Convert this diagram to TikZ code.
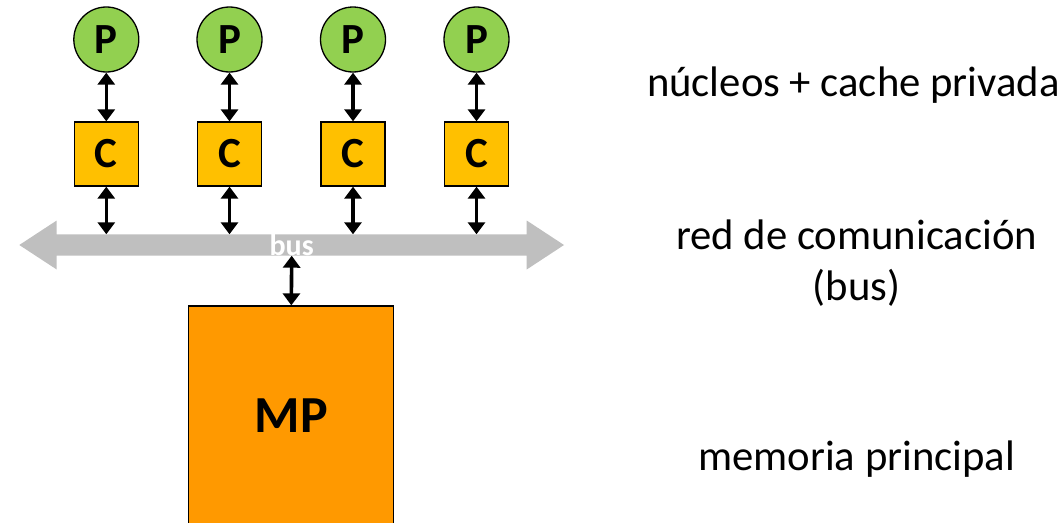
\documentclass[tikz,border=0pt]{standalone}
\usepackage{fontspec}
\setmainfont{Carlito}
\usetikzlibrary{arrows.meta}

\definecolor{coregreen}{HTML}{92D050}
\definecolor{cacheyellow}{HTML}{FFC000}
\definecolor{memorange}{HTML}{FF9900}
\definecolor{busgray}{HTML}{BFBFBF}

\tikzset{
  core/.style={circle, draw=black, line width=1.3pt, fill=coregreen,
    minimum size=65pt, inner sep=0pt, font=\fontsize{43}{50}\selectfont\bfseries},
  cachebox/.style={rectangle, draw=black, line width=1.3pt, fill=cacheyellow,
    minimum size=64pt, inner sep=0pt, font=\fontsize{43}{50}\selectfont\bfseries},
  membox/.style={rectangle, draw=black, line width=1.3pt, fill=memorange,
    minimum width=205pt, minimum height=220pt, inner sep=0pt,
    font=\fontsize{52}{60}\selectfont\bfseries},
  link/.style={line width=3.6pt, {Triangle[width=17pt,length=12pt]}-{Triangle[width=17pt,length=12pt]}},
  caption/.style={anchor=base, align=center, inner sep=0pt,
    font=\fontsize{42.7}{51.4}\selectfont},
}

\begin{document}
\begin{tikzpicture}[x=1pt, y=-1pt]
  \useasboundingbox (0,0) rectangle (1064,522);

  % shared bus drawn as a double-headed arrow
  \fill[busgray] (19.3,245) -- (56.7,220.5) -- (56.7,234.3) -- (526.7,234.3)
    -- (526.7,220.5) -- (564,245) -- (526.7,269.5) -- (526.7,255.7)
    -- (56.7,255.7) -- (56.7,269.5) -- cycle;
  \node[anchor=base, inner sep=0pt, text=white, font=\fontsize{30}{34}\selectfont\bfseries]
    (buslabel) at (291.7,255) {bus};

  % cores with private caches
  \foreach \i/\x in {1/106.3, 2/229.5, 3/353, 4/476.5} {
    \node[core] (p\i) at (\x,39.5) {P};
    \node[cachebox] (c\i) at (\x,154) {C};
    \coordinate (b\i) at (\x,234.3);
    \draw[link] (p\i.south) -- (c\i.north);
    \draw[link] (c\i.south) -- (b\i);
  }

  % main memory
  \node[membox] (mp) at (291.3,416) {MP};
  \coordinate (bm) at (291.7,255.7);
  \draw[link] (bm) -- (mp.north);

  % level captions
  \node[caption] (capcores) at (853.3,96.7) {núcleos + cache privada};
  \node[caption] (capbus) at (856.5,300.7) {red de comunicación\\(bus)};
  \node[caption] (capmem) at (856.7,470) {memoria principal};
\end{tikzpicture}
\end{document}
